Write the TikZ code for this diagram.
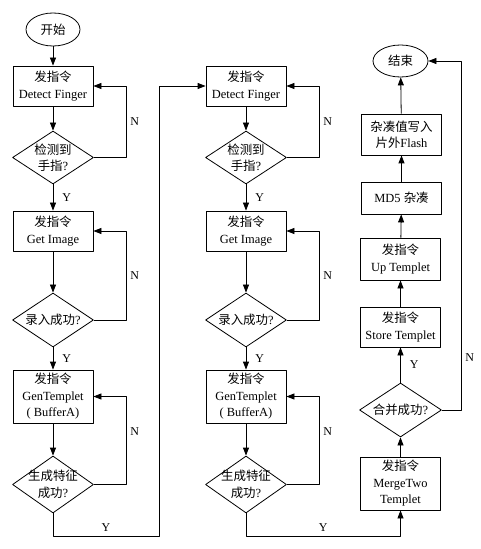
\documentclass[tikz,border=0pt]{standalone}
\usepackage{fontspec}
\setmainfont{Liberation Serif}
\newfontfamily\cjk{Noto Sans CJK SC}
\usetikzlibrary{shapes.geometric,arrows.meta}
\newcommand{\zh}[1]{{\cjk #1}}
\newcommand{\dline}[1]{\makebox[0pt]{#1}}
\begin{document}
\begin{tikzpicture}[x=1bp, y=-1bp, font=\fontsize{12.5}{16.5}\selectfont, line width=.8bp, line join=round, >={Triangle[length=8bp,width=6bp]},
		box/.style={draw, rectangle, minimum width=80bp, minimum height=#1, inner sep=1bp, align=center},
		box/.default=40bp,
		decision/.style={draw, diamond, minimum width=81bp, minimum height=#1, inner sep=0pt, align=center},
		decision/.default=54bp,
		term/.style={draw, ellipse, minimum width=54bp, minimum height=33bp, inner sep=0pt},
		lab/.style={font=\fontsize{12}{14}\selectfont, inner sep=4bp},
		yes/.style={lab, right, xshift=5bp}]
	\useasboundingbox (0,0) rectangle (481,549);
	\node[term] (start) at (53,29.5) {\zh{开始}};
	% two columns of enrolment
	\foreach \c/\x in {a/53,b/246} {
		\node[box] (df\c) at (\x,86) {\zh{发指令}\\Detect Finger};
		\node[decision=53bp] (q1\c) at (\x,157.5) {\dline{\zh{检测到}}\\\dline{\zh{手指}?}};
		\node[box] (gi\c) at (\x,231) {\zh{发指令}\\Get Image};
		\node[decision] (q2\c) at (\x,320) {\dline{\zh{录入成功}?}};
		\node[box=53bp] (gt\c) at (\x,396.5) {\zh{发指令}\\GenTemplet\\( BufferA)};
		\node[decision=57bp] (q3\c) at (\x,484.5) {\dline{\zh{生成特征}}\\\dline{\zh{成功}?}};
		\draw[->] (df\c) -- (q1\c);
		\draw[->] (q1\c) -- node[yes]{Y} (gi\c);
		\draw[->] (gi\c) -- (q2\c);
		\draw[->] (q2\c) -- node[yes]{Y} (gt\c);
		\draw[->] (gt\c) -- (q3\c);
		\draw[->] (q1\c.east) -- ++(32,0) |- node[lab,pos=.25,right]{N} (df\c.east);
		\draw[->] (q2\c.east) -- ++(32,0) |- node[lab,pos=.25,right]{N} (gi\c.east);
		\draw[->] (q3\c.east) -- ++(32,0) |- node[lab,pos=.3,right]{N} (gt\c.east);
	}
	% last column
	\node[term, minimum width=55bp, minimum height=32bp] (end) at (400.5,61) {\zh{结束}};
	\node[box=41bp] (flash) at (401.5,134.5) {\zh{杂凑值写入}\\\zh{片外}Flash};
	\node[box=32bp] (md5) at (401.5,198) {MD5 \zh{杂凑}};
	\node[box=42bp] (up) at (400.5,259) {\zh{发指令}\\Up Templet};
	\node[box] (store) at (400.5,327) {\zh{发指令}\\Store Templet};
	\node[decision, minimum width=82bp] (q4) at (400.5,410) {\dline{\zh{合并成功}?}};
	\node[box=53bp] (merge) at (400.5,483.5) {\zh{发指令}\\MergeTwo\\Templet};
	\coordinate (ja) at (159,536);
	\coordinate (jb) at (merge.south |- 0,536);
	\draw[->] (start) -- (dfa);
	\draw[->] (q3a.south) |- node[lab,pos=.75,above]{Y} (ja) |- (dfb.west);
	\draw[->] (q3b.south) |- node[lab,pos=.75,above]{Y} (jb) -- (merge.south);
	\draw[->] (merge) -- (q4);
	\draw[->] (q4) -- node[yes]{Y} (store);
	\draw[->] (store) -- (up);
	\draw[->] (up) -- (md5);
	\draw[->] (md5) -- (flash);
	\draw[->] (flash) -- (end);
	\draw[->] (q4.east) -- ++(19,0) |- node[lab,pos=.075,right]{N} (end.east);
\end{tikzpicture}
\end{document}
